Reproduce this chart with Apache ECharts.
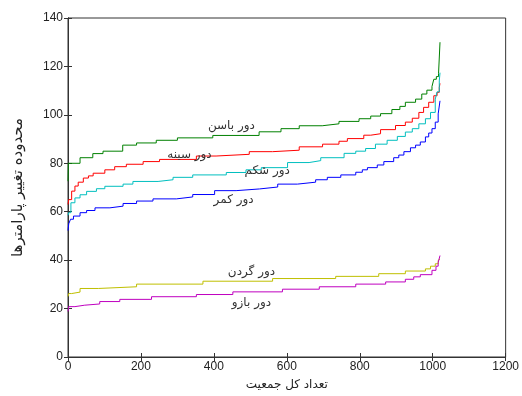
<!DOCTYPE html>
<html>
<head>
<meta charset="UTF-8">
<script src="https://cdn.jsdelivr.net/npm/echarts@6/dist/echarts.min.js"></script>
<style>
  html, body { margin: 0; padding: 0; background: #fff; }
  #main { width: 522px; height: 396px; }
</style>
</head>
<body>
<div id="main"></div>
<script>
var hip = [[0,72.6],[1,80],[33,82.3],[68,84],[96,85],[150,87.5],[188,88.4],[242,89.5],[300,90.5],[397,91.5],[524,93],[584,94.3],[634,95.5],[697,96.3],[743,97.3],[798,98.4],[830,99.5],[857,100.5],[888,102.2],[910,103.5],[925,105.2],[953,106.5],[970,108.6],[984,110.2],[998,111.7],[1003,114.7],[1010,115.8],[1016,117],[1020,130]];
var chest = [[0,63],[2,65],[10,68.5],[19,70.6],[28,72.2],[42,73.9],[56,74.8],[69,75.9],[101,77.3],[128,78.6],[160,79.6],[206,80.7],[251,81.6],[352,83],[406,83.7],[497,84.8],[561,85.4],[634,86.8],[698,87.9],[743,89.1],[766,90.2],[811,91.6],[830,92.2],[857,93.9],[898,95.6],[925,97],[944,98.6],[962,101],[975,103.1],[989,105.2],[1003,107.9],[1012,109.3],[1018,111.3],[1020,113]];
var belly = [[0,58.5],[2,59.6],[8,63.7],[19,65.7],[33,67],[51,68.4],[78,69.5],[101,70.5],[151,71.4],[178,72.5],[247,73.2],[288,74.2],[342,75.2],[434,76.2],[488,77.3],[530,78.2],[602,80.3],[661,81.1],[693,82.3],[757,84.1],[789,85],[816,86.1],[843,87.9],[875,89.5],[903,91.1],[925,92.9],[944,94.3],[962,96.3],[980,98.4],[994,101],[1007,106.5],[1012,109.5],[1018,114],[1020,117.4]];
var waist = [[0,52.2],[2,55],[7,56.9],[15,58.2],[33,59.6],[51,60.5],[74,61.6],[115,62.3],[151,63.4],[188,64.4],[233,65.3],[297,66.1],[342,67.1],[402,68.7],[461,69.4],[525,70.2],[575,71.4],[629,72.2],[679,73.2],[711,74.2],[748,75.2],[789,76.3],[807,77.3],[821,78.2],[848,79.3],[866,80.7],[893,82.3],[907,83.4],[921,84.8],[939,86.4],[953,87.5],[966,88.8],[980,90.9],[989,92.5],[998,94.3],[1007,97],[1015,100.4],[1020,105.8]];
var neck = [[0,25],[2,26.2],[10,26.8],[33,28.3],[83,29],[188,30.1],[370,31.3],[561,32.4],[734,33.3],[852,34.4],[925,35.5],[980,36.4],[994,37.5],[1007,38.5],[1015,39.9],[1020,40.5]];
var arm = [[0,18.8],[2,20.8],[19,21.4],[46,21.9],[87,22.9],[142,23.8],[229,24.9],[352,25.8],[452,26.9],[588,28],[689,29],[789,30.1],[871,31],[925,32.1],[948,33.1],[966,34],[998,35.8],[1009,37.5],[1015,39],[1020,41.9]];

var names = ['دور باسن', 'دور سینه', 'دور شکم', 'دور کمر', 'دور گردن', 'دور بازو'];
var colors = ['#008000', '#ff0000', '#00bfbf', '#0000ff', '#bfbf00', '#bf00bf'];
var labelPos = [[448, 95.5], [333, 83.3], [546, 76.7], [454, 65], [503, 35], [503, 22.5]];
var allData = [hip, chest, belly, waist, neck, arm];

var axisLine = { show: true, lineStyle: { color: '#333', width: 1 } };
var tick = { show: true, inside: true, length: 4, lineStyle: { color: '#333' } };
var lbl = {
  color: '#222', fontSize: 12, fontFamily: 'Liberation Sans, Arial, sans-serif',
  formatter: function (v) { return String(v); }
};

var series = allData.map(function (d, i) {
  return {
    type: 'line',
    name: names[i],
    data: d,
    step: 'end',
    showSymbol: false,
    symbol: 'none',
    lineStyle: { color: colors[i], width: 1 },
    itemStyle: { color: colors[i] },
    animation: false,
    markPoint: {
      symbol: 'circle',
      symbolSize: 0,
      data: [{ coord: labelPos[i], value: names[i] }],
      label: {
        show: true,
        position: 'inside',
        formatter: names[i],
        color: '#333',
        fontSize: 12,
        fontFamily: 'DejaVu Sans, sans-serif'
      }
    }
  };
});

var chart = echarts.init(document.getElementById('main'));
chart.setOption({
  backgroundColor: '#fff',
  animation: false,
  grid: { left: 68, right: 15, top: 18, bottom: 35, show: true, borderColor: '#333', borderWidth: 1 },
  xAxis: [{
    type: 'value', min: 0, max: 1200, interval: 200,
    name: 'تعداد کل جمعیت', nameLocation: 'middle', nameGap: 22,
    nameTextStyle: { color: '#222', fontSize: 12, fontFamily: 'DejaVu Sans, sans-serif' },
    axisLine: axisLine, axisTick: tick, splitLine: { show: false },
    axisLabel: Object.assign({ margin: 4 }, lbl)
  }, {
    type: 'value', position: 'top', min: 0, max: 1200, interval: 200,
    axisLine: axisLine, axisTick: tick, splitLine: { show: false }, axisLabel: { show: false }
  }],
  yAxis: [{
    type: 'value', min: 0, max: 140, interval: 20,
    name: 'محدوده تغییر پارامترها', nameLocation: 'middle', nameGap: 42, nameRotate: 90,
    nameTextStyle: { color: '#222', fontSize: 15, fontFamily: 'DejaVu Sans, sans-serif' },
    axisLine: axisLine, axisTick: tick, splitLine: { show: false },
    axisLabel: Object.assign({ margin: 5 }, lbl)
  }, {
    type: 'value', position: 'right', min: 0, max: 140, interval: 20,
    axisLine: axisLine, axisTick: tick, splitLine: { show: false }, axisLabel: { show: false }
  }],
  series: series
});
</script>
</body>
</html>
